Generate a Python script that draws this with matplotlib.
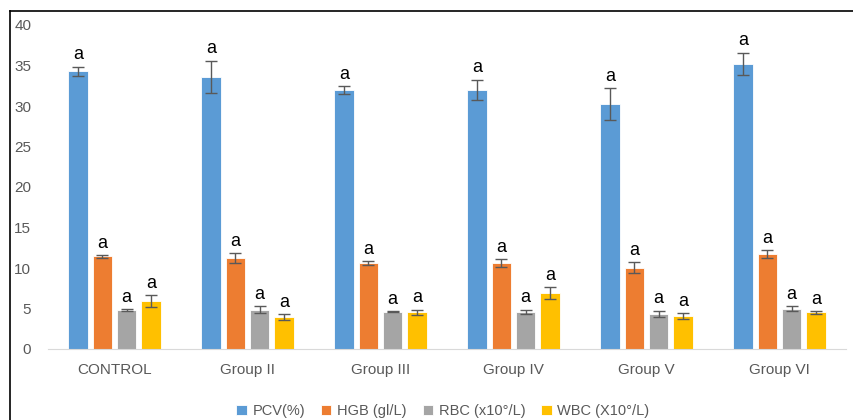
import matplotlib.pyplot as plt
import numpy as np
from matplotlib.lines import Line2D

# values
groups = ['CONTROL', 'Group II', 'Group III', 'Group IV', 'Group V', 'Group VI']
series = ['PCV(%)', 'HGB (gl/L)', 'RBC (x10°/L)', 'WBC (X10°/L)']
pcv = [34.3, 33.6, 32.0, 32.0, 30.25, 35.2]
hgb = [11.44, 11.2, 10.62, 10.62, 10.04, 11.73]
rbc = [4.85, 4.85, 4.61, 4.61, 4.32, 4.94]
wbc = [5.93, 3.91, 4.53, 6.91, 4.07, 4.53]
pcv_err = [0.55, 2.0, 0.5, 1.25, 1.98, 1.38]
hgb_err = [0.15, 0.6, 0.2, 0.47, 0.66, 0.51]
rbc_err = [0.1, 0.4, 0.1, 0.25, 0.41, 0.31]
wbc_err = [0.75, 0.35, 0.33, 0.7, 0.37, 0.19]
letters = 'a'

colors = ['#5B9BD5', '#ED7D31', '#A5A5A5', '#FFC000']
plt.rcParams['font.family'] = ['Liberation Sans', 'DejaVu Sans']

fig = plt.figure(figsize=(8.54, 4.2), dpi=100)
ax = fig.add_axes([48/854, 71/420, 798/854, 324/420])

x = np.arange(len(groups))
step = 0.183
width = 0.145
vals = [pcv, hgb, rbc, wbc]
errs = [pcv_err, hgb_err, rbc_err, wbc_err]
for i, (v, e) in enumerate(zip(vals, errs)):
    pos = x + (i - 1.5) * step
    ax.bar(pos, v, width=width, color=colors[i], edgecolor='white', linewidth=0.6,
           label=series[i], zorder=2)
    ax.errorbar(pos, v, yerr=e, fmt='none', ecolor='#595959', elinewidth=1.0,
                capsize=4, capthick=1.0, zorder=3)
    for xx, vv, ee in zip(pos, v, e):
        ax.text(xx, vv + ee + 0.4, letters, ha='center', va='bottom', fontsize=13,
                color='black')

ax.set_xlim(-0.5, len(groups) - 0.5)
ax.set_ylim(0, 40)
ax.set_yticks(range(0, 41, 5))
ax.set_xticks(x)
ax.set_xticklabels(groups)
ax.tick_params(axis='both', length=0, labelsize=11, colors='#595959')
ax.tick_params(axis='y', pad=12)
ax.tick_params(axis='x', pad=10)
for s in ['top', 'right', 'left']:
    ax.spines[s].set_visible(False)
ax.spines['bottom'].set_color('#D9D9D9')

ax.legend(loc='upper center', bbox_to_anchor=(0.495, -0.13), ncol=4, frameon=False,
          fontsize=10.5, handlelength=0.7, handleheight=0.7, columnspacing=1.1,
          handletextpad=0.4, labelcolor='#595959')

# outer frame of the original picture
fig.add_artist(Line2D([10/854, 10/854], [0, 1 - 11/420], color='black', lw=1.2))
fig.add_artist(Line2D([10/854, 1], [1 - 11/420, 1 - 11/420], color='black', lw=1.2))

fig.savefig('out.png', dpi=100)
